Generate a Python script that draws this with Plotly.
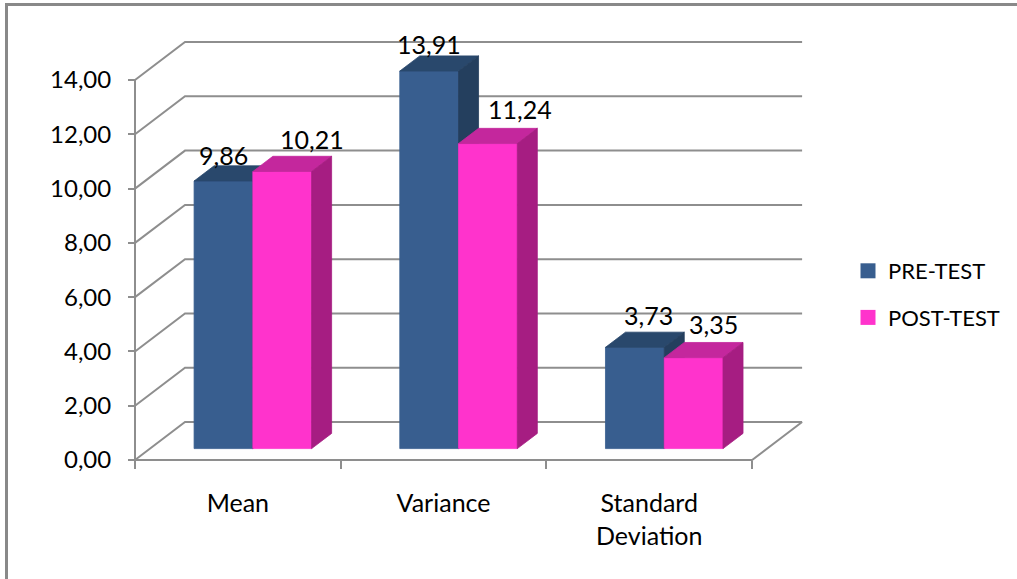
import plotly.graph_objects as go

# ---- data -------------------------------------------------------------
categories = ["Mean", "Variance", "Standard<br>Deviation"]
series_names = ["PRE-TEST", "POST-TEST"]
pre_test = [9.86, 13.91, 3.73]
post_test = [10.21, 11.24, 3.35]
y_ticks = [0, 2, 4, 6, 8, 10, 12, 14]

# ---- layout constants (pixels) -------------------------------------------
W, H = 1017, 579
X0_PX, PX_PER_CAT = 135, 205.7      # left front corner of the floor, width of one category
Y0_PX, PX_PER_VAL = 460, 27.14      # front zero line, pixels per value unit

DEPTH_X = 50 / PX_PER_CAT           # oblique depth of the box, in axis units
DEPTH_Y = 38 / PX_PER_VAL
BAR_FRONT, BAR_BACK = 0.3, 0.7      # bars occupy the middle of the depth
GAP_WIDTH = 1.5
BAR_W = 1 / (2 + GAP_WIDTH)

GRID = "#8E8E8E"
FONT = "Lato, 'Open Sans', sans-serif"
FACES = [
    dict(front="#385E8F", top="#29486C", side="#243F5E"),
    dict(front="#FF33CC", top="#C4279D", side="#A61D82"),
]
# fine placement of the value labels: (dx px from face centre, dy px above rear top edge)
LABEL_DX = [[0, 0, 13.5], [29.5, 32.5, 19.5]]
LABEL_DY = [[11, 11.7, 17], [17, 19, 18]]

n_cat = len(categories)
values = [pre_test, post_test]

fig = go.Figure()

# back wall and side wall gridlines
gx, gy = [], []
for v in y_ticks:
    gx += [0, DEPTH_X, n_cat + DEPTH_X, None]
    gy += [v, v + DEPTH_Y, v + DEPTH_Y, None]
fig.add_trace(go.Scatter(x=gx, y=gy, mode="lines", line=dict(color=GRID, width=2),
                         hoverinfo="skip", showlegend=False))

# floor front and right edges, vertical value axis line
fig.add_trace(go.Scatter(x=[0, n_cat, n_cat + DEPTH_X], y=[0, 0, DEPTH_Y], mode="lines",
                         line=dict(color=GRID, width=2), hoverinfo="skip", showlegend=False))
fig.add_trace(go.Scatter(x=[0, 0], y=[0, y_ticks[-1]], mode="lines",
                         line=dict(color=GRID, width=2), hoverinfo="skip", showlegend=False))

# 3-D bars: front, top and side faces for each series
ddx = (BAR_BACK - BAR_FRONT) * DEPTH_X
ddy = (BAR_BACK - BAR_FRONT) * DEPTH_Y
base = BAR_FRONT * DEPTH_Y
annotations = []
for s, vals in enumerate(values):
    fx, fy, tx, ty, sx, sy = [], [], [], [], [], []
    for i, v in enumerate(vals):
        xl = i + 0.5 - BAR_W + s * BAR_W + BAR_FRONT * DEPTH_X
        xr = xl + BAR_W
        t = v + base
        fx += [xl, xr, xr, xl, xl, None]
        fy += [base, base, t, t, base, None]
        tx += [xl, xr, xr + ddx, xl + ddx, xl, None]
        ty += [t, t, t + ddy, t + ddy, t, None]
        sx += [xr, xr + ddx, xr + ddx, xr, xr, None]
        sy += [base, base + ddy, t + ddy, t, base, None]
        annotations.append(dict(
            x=(xl + xr) / 2, y=t + ddy, xref="x", yref="y",
            text=f"{v:.2f}".replace(".", ","), showarrow=False,
            xanchor="center", yanchor="middle",
            xshift=LABEL_DX[s][i], yshift=LABEL_DY[s][i],
            font=dict(family=FONT, size=25, color="#000000")))
    for px, py, key in ((fx, fy, "front"), (tx, ty, "top"), (sx, sy, "side")):
        col = FACES[s][key]
        fig.add_trace(go.Scatter(x=px, y=py, mode="lines", fill="toself", fillcolor=col,
                                 line=dict(color=col, width=0.8), hoverinfo="skip",
                                 showlegend=False))

# legend entries
for s, name in enumerate(series_names):
    fig.add_trace(go.Scatter(x=[None], y=[None], mode="markers", name=name,
                             legendgroup=name,
                             marker=dict(symbol="square", size=15, color=FACES[s]["front"],
                                         line=dict(width=0))))

x_range = [-X0_PX / PX_PER_CAT, (W - X0_PX) / PX_PER_CAT]
y_range = [-(H - Y0_PX) / PX_PER_VAL, Y0_PX / PX_PER_VAL]

fig.update_layout(
    width=W, height=H,
    margin=dict(l=0, r=0, t=0, b=0),
    paper_bgcolor="white", plot_bgcolor="white",
    separators=",.",
    font=dict(family=FONT, color="#000000"),
    annotations=annotations,
    xaxis=dict(
        range=x_range, domain=[0, 1], anchor="free", position=(H - Y0_PX) / H,
        showgrid=False, zeroline=False, showline=False,
        tickvals=[i + 0.5 for i in range(n_cat)], ticktext=categories,
        ticks="", ticklabelstandoff=26,
        tickfont=dict(family=FONT, size=25, color="#000000"),
        minor=dict(tickvals=list(range(n_cat + 1)), ticks="outside", ticklen=8,
                   tickwidth=2, tickcolor=GRID, showgrid=False),
        fixedrange=True, automargin=False,
    ),
    yaxis=dict(
        range=y_range, domain=[0, 1], anchor="free", position=X0_PX / W,
        showgrid=False, zeroline=False, showline=False,
        tickvals=y_ticks, tickformat=".2f",
        ticks="outside", ticklen=7, tickwidth=2, tickcolor=GRID,
        ticklabelstandoff=12,
        tickfont=dict(family=FONT, size=24, color="#000000"),
        fixedrange=True, automargin=False,
    ),
    legend=dict(
        x=848 / W, y=1 - 250 / H, xanchor="left", yanchor="top",
        font=dict(family=FONT, size=22, color="#000000"),
        tracegroupgap=15, itemsizing="trace", bgcolor="rgba(0,0,0,0)",
    ),
    showlegend=True,
    shapes=[
        # chart frame
        dict(type="line", xref="paper", yref="paper", x0=6.5 / W, x1=6.5 / W,
             y0=1 - 4.5 / H, y1=-0.05, line=dict(color="#898989", width=3)),
        dict(type="line", xref="paper", yref="paper", x0=5 / W, x1=1.05,
             y0=1 - 4.5 / H, y1=1 - 4.5 / H, line=dict(color="#898989", width=3)),
    ],
)

fig.write_html("out.html")
